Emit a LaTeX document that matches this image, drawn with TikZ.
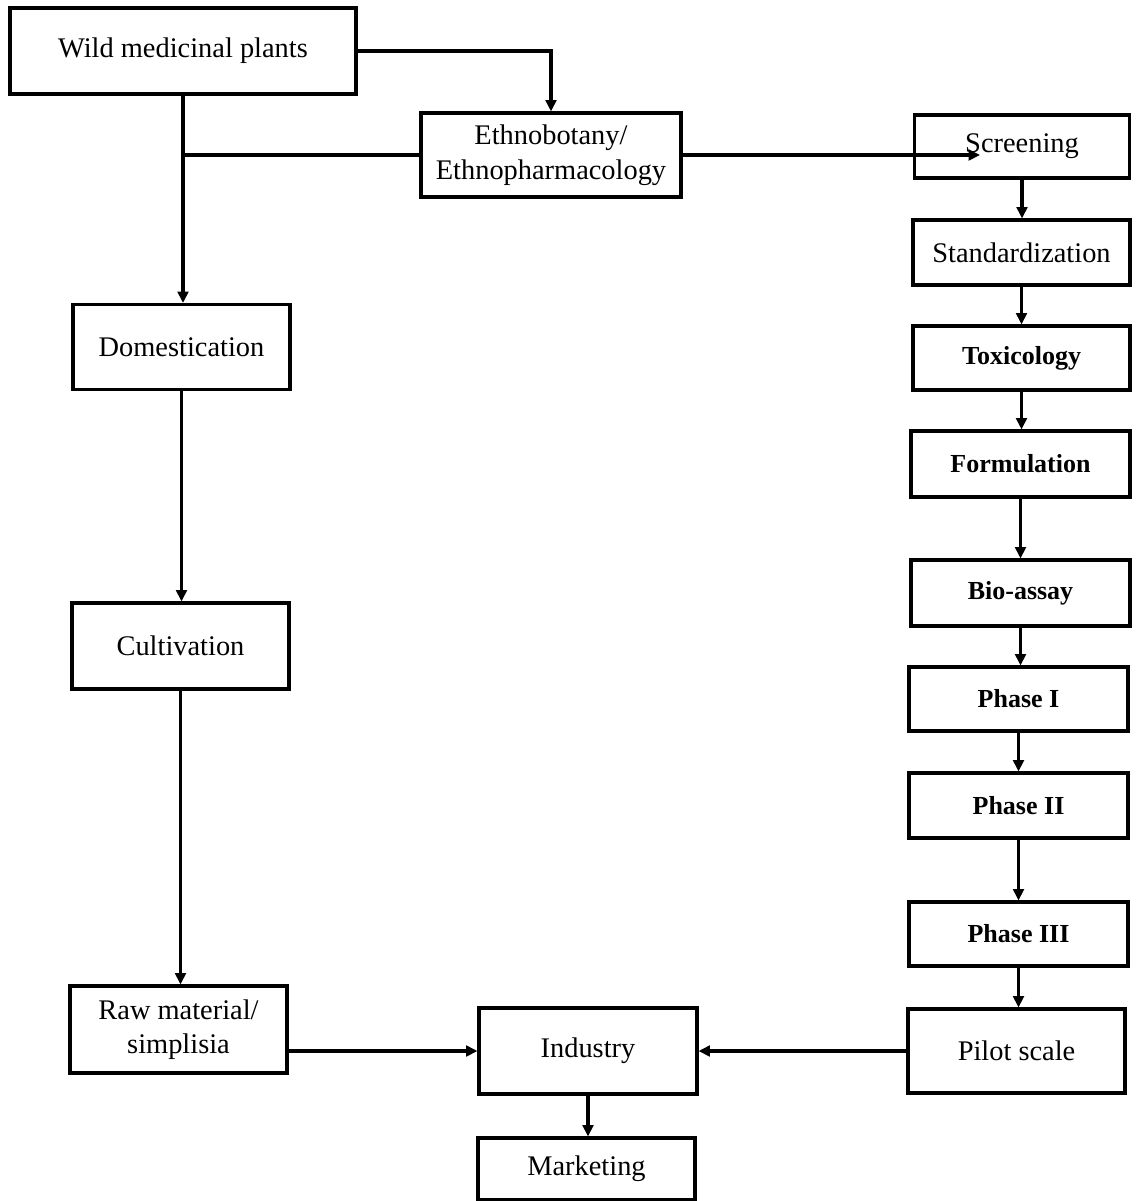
\documentclass[tikz,border=0pt]{standalone}
\usepackage{fontspec}
\setmainfont{Liberation Serif}
\usetikzlibrary{arrows.meta}
\begin{document}
\begin{tikzpicture}[x=0.75pt,y=-0.75pt,
  box/.style 2 args={draw, line width=2.3pt, inner sep=0pt, align=center,
    minimum width=#1*0.75pt, minimum height=#2*0.75pt,
    font=\fontsize{21.3}{26}\selectfont},
  bbox/.style 2 args={box={#1}{#2}, font=\fontsize{19.5}{24}\selectfont\bfseries},
  conn/.style={line width=2.3pt},
  arr/.style={conn, -{Triangle[length=8.5pt,width=8pt]}}]
\useasboundingbox (0,0) rectangle (1137,1201);
% left column
\node[box={346}{86}] (wild) at (183,51) {Wild medicinal plants};
\node[box={217}{85}] (dom) at (181.5,347) {Domestication};
\node[box={217}{86}] (cult) at (180.5,646) {Cultivation};
\node[box={217}{87}] (raw) at (178.5,1029.5) {Raw material/\\simplisia};
% top middle
\node[box={260}{84}] (ethno) at (551,155) {Ethnobotany/\\Ethnopharmacology};
% right column
\node[box={215}{63}] (scr) at (1022,146.5) {Screening};
\node[box={217}{65}] (std) at (1021.5,252.5) {Standardization};
\node[bbox={217}{64}] (tox) at (1021.5,358) {Toxicology};
\node[bbox={219}{66}] (form) at (1020.5,464) {Formulation};
\node[bbox={219}{66}] (bio) at (1020.5,593) {Bio-assay};
\node[bbox={219}{64}] (p1) at (1018.5,699) {Phase I};
\node[bbox={219}{65}] (p2) at (1018.5,805.5) {Phase II};
\node[bbox={219}{64}] (p3) at (1018.5,934) {Phase III};
\node[box={217}{84}] (pilot) at (1016.5,1051) {Pilot scale};
% bottom middle
\node[box={218}{86}] (ind) at (588,1051) {Industry};
\node[box={217}{62}] (mkt) at (586.5,1169) {Marketing};
\coordinate (scrin) at (980,155);
% connectors
\draw[arr] (wild.east) -| (ethno.north);
\draw[arr] (wild.south) -- (wild.south |- dom.north);
\draw[conn] (ethno.west) -- (ethno.west -| wild.south);
\draw[arr] (ethno.east) -- (scrin);
\draw[arr] (dom.south) -- (dom.south |- cult.north);
\draw[arr] (cult.south) -- (cult.south |- raw.north);
\draw[arr] (scr.south) -- (scr.south |- std.north);
\draw[arr] (std.south) -- (std.south |- tox.north);
\draw[arr] (tox.south) -- (tox.south |- form.north);
\draw[arr] (form.south) -- (form.south |- bio.north);
\draw[arr] (bio.south) -- (bio.south |- p1.north);
\draw[arr] (p1.south) -- (p1.south |- p2.north);
\draw[arr] (p2.south) -- (p2.south |- p3.north);
\draw[arr] (p3.south) -- (p3.south |- pilot.north);
\draw[arr] (ind.west -| raw.east) -- (ind.west);
\draw[arr] (pilot.west) -- (ind.east);
\draw[arr] (ind.south) -- (ind.south |- mkt.north);
\end{tikzpicture}
\end{document}
